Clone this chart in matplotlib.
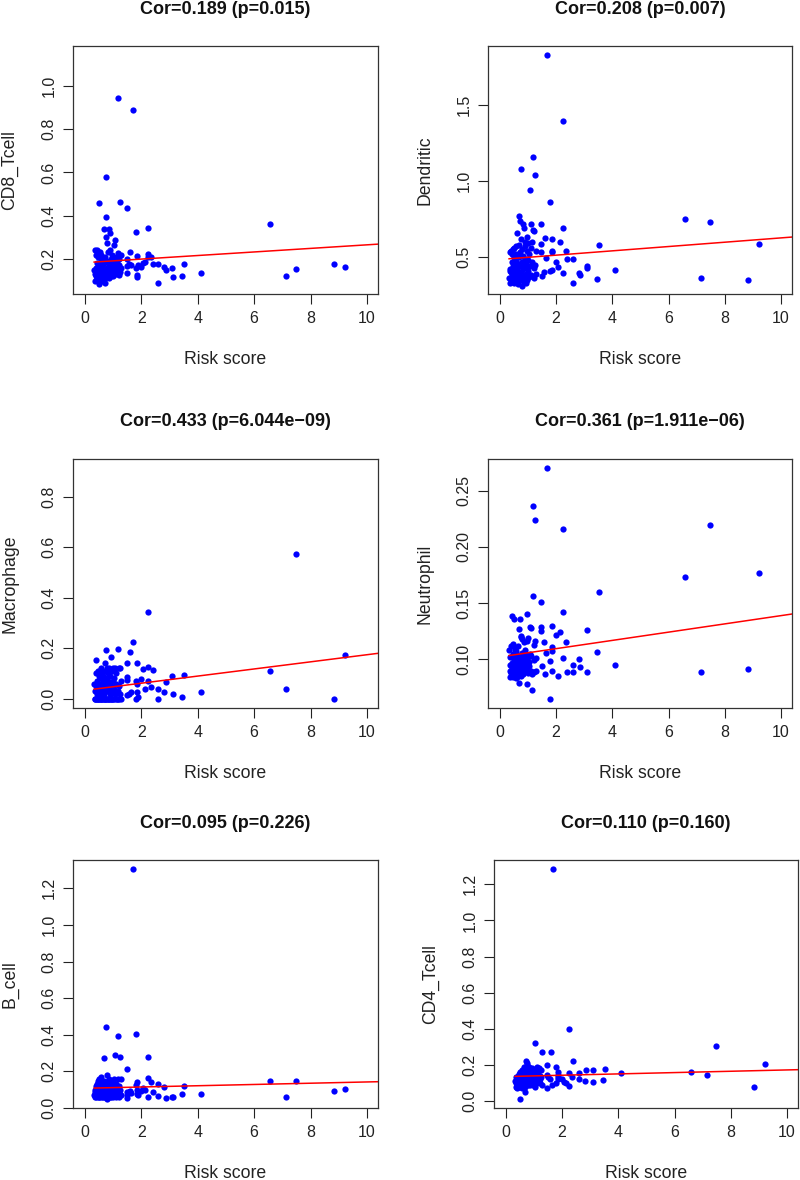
import numpy as np
import matplotlib
matplotlib.use('Agg')
import matplotlib.pyplot as plt

plt.rcParams['font.family'] = ['Liberation Sans', 'DejaVu Sans']

# risk score per sample (shared by all six panels)
risk_score = [
    0.33, 0.35, 0.36, 0.38, 0.39, 0.40, 0.41, 0.42, 0.43, 0.44,
    0.45, 0.46, 0.47, 0.48, 0.49, 0.50, 0.50, 0.51, 0.52, 0.53,
    0.54, 0.55, 0.56, 0.57, 0.58, 0.59, 0.60, 0.61, 0.62, 0.63,
    0.64, 0.65, 0.66, 0.67, 0.68, 0.69, 0.70, 0.71, 0.72, 0.73,
    0.74, 0.75, 0.76, 0.77, 0.78, 0.79, 0.80, 0.81, 0.82, 0.83,
    0.84, 0.85, 0.86, 0.87, 0.88, 0.89, 0.90, 0.91, 0.92, 0.93,
    0.94, 0.95, 0.96, 0.97, 0.98, 0.99, 1.00, 1.02, 1.04, 1.05,
    1.06, 1.08, 1.10, 1.11, 1.12, 1.14, 1.16, 1.17, 1.18, 1.20,
    1.21, 1.22, 1.24, 1.25, 1.27, 1.29, 0.37, 0.55, 0.62, 0.70,
    1.48, 1.48, 1.48, 1.50, 1.58, 1.60, 1.64, 1.69, 1.80, 1.80,
    1.84, 1.84, 1.86, 1.87, 1.99, 2.07, 2.13, 2.25, 2.25, 2.25,
    2.34, 2.40, 2.60, 2.61, 2.80, 2.86, 3.09, 3.11, 3.46, 3.51,
    4.11, 6.57, 7.14, 7.48, 8.83, 9.21]

cd8_tcell = [
    0.15, 0.13, 0.24, 0.12, 0.22, 0.14, 0.16, 0.11, 0.18, 0.24,
    0.13, 0.15, 0.21, 0.10, 0.17, 0.458, 0.12, 0.082, 0.14, 0.23,
    0.16, 0.11, 0.19, 0.13, 0.15, 0.22, 0.12, 0.17, 0.10, 0.14,
    0.16, 0.20, 0.13, 0.338, 0.12, 0.18, 0.15, 0.11, 0.21, 0.14,
    0.393, 0.30, 0.581, 0.16, 0.13, 0.274, 0.19, 0.12, 0.15, 0.23,
    0.338, 0.14, 0.17, 0.11, 0.24, 0.32, 0.13, 0.16, 0.20, 0.12,
    0.15, 0.18, 0.13, 0.22, 0.14, 0.17, 0.12, 0.19, 0.15, 0.266,
    0.289, 0.14, 0.16, 0.21, 0.13, 0.18, 0.228, 0.946, 0.15, 0.20,
    0.125, 0.17, 0.464, 0.14, 0.22, 0.16, 0.10, 0.13, 0.12, 0.09,
    0.435, 0.166, 0.20, 0.136, 0.175, 0.232, 0.17, 0.891, 0.323, 0.16,
    0.215, 0.126, 0.117, 0.17, 0.165, 0.18, 0.185, 0.343, 0.223, 0.209,
    0.21, 0.175, 0.088, 0.177, 0.162, 0.148, 0.158, 0.117, 0.122, 0.178,
    0.137, 0.36, 0.122, 0.154, 0.179, 0.165]

dendritic = [
    0.36, 0.42, 0.53, 0.33, 0.40, 0.54, 0.35, 0.47, 0.38, 0.52,
    0.34, 0.44, 0.55, 0.37, 0.41, 0.56, 0.33, 0.45, 0.50, 0.36,
    0.48, 0.39, 0.57, 0.34, 0.43, 0.52, 0.37, 0.46, 0.655, 0.35,
    0.41, 0.50, 0.32, 0.58, 0.44, 0.77, 0.38, 0.53, 0.74, 0.36,
    0.45, 0.62, 1.077, 0.40, 0.31, 0.55, 0.47, 0.34, 0.72, 0.42,
    0.51, 0.38, 0.69, 0.44, 0.60, 0.36, 0.49, 0.57, 0.33, 0.46,
    0.39, 0.54, 0.43, 0.63, 0.35, 0.48, 0.41, 0.59, 0.37, 0.52,
    0.939, 0.44, 0.72, 0.56, 0.38, 0.47, 0.60, 1.158, 0.68, 0.43,
    0.36, 0.67, 1.037, 0.45, 0.54, 0.39, 0.41, 0.48, 0.34, 0.50,
    0.715, 0.588, 0.53, 0.373, 0.40, 0.623, 0.496, 1.827, 0.86, 0.41,
    0.616, 0.533, 0.54, 0.417, 0.467, 0.434, 0.596, 1.395, 0.689, 0.397,
    0.537, 0.487, 0.33, 0.487, 0.395, 0.385, 0.44, 0.43, 0.355, 0.58,
    0.412, 0.752, 0.364, 0.73, 0.351, 0.586]

macrophage = [
    0.06, 0.0, 0.03, 0.0, 0.05, 0.10, 0.152, 0.0, 0.07, 0.02,
    0.0, 0.11, 0.04, 0.0, 0.09, 0.10, 0.0, 0.03, 0.06, 0.0,
    0.08, 0.02, 0.0, 0.12, 0.05, 0.0, 0.04, 0.10, 0.0, 0.07,
    0.0, 0.03, 0.09, 0.0, 0.06, 0.02, 0.14, 0.0, 0.11, 0.04,
    0.0, 0.08, 0.193, 0.05, 0.0, 0.12, 0.03, 0.0, 0.07, 0.10,
    0.0, 0.04, 0.12, 0.0, 0.06, 0.02, 0.09, 0.164, 0.0, 0.05,
    0.0, 0.11, 0.03, 0.0, 0.07, 0.12, 0.0, 0.04, 0.08, 0.0,
    0.12, 0.02, 0.0, 0.06, 0.10, 0.0, 0.03, 0.195, 0.0, 0.05,
    0.0, 0.12, 0.12, 0.02, 0.0, 0.07, 0.0, 0.01, 0.04, 0.0,
    0.143, 0.085, 0.074, 0.015, 0.02, 0.186, 0.025, 0.224, 0.07, 0.0,
    0.14, 0.028, 0.057, 0.005, 0.077, 0.119, 0.037, 0.345, 0.124, 0.07,
    0.048, 0.112, 0.0, 0.04, 0.026, 0.067, 0.09, 0.018, 0.007, 0.095,
    0.026, 0.111, 0.038, 0.572, 0.0, 0.173]

neutrophil = [
    0.108, 0.090, 0.084, 0.102, 0.095, 0.088, 0.112, 0.086, 0.1388, 0.097,
    0.092, 0.105, 0.084, 0.114, 0.099, 0.089, 0.103, 0.136, 0.094, 0.110,
    0.087, 0.101, 0.093, 0.098, 0.083, 0.107, 0.091, 0.100, 0.089, 0.096,
    0.104, 0.086, 0.112, 0.093, 0.099, 0.079, 0.088, 0.102, 0.1358, 0.095,
    0.085, 0.121, 0.120, 0.097, 0.090, 0.106, 0.118, 0.092, 0.100, 0.087,
    0.096, 0.115, 0.103, 0.089, 0.098, 0.094, 0.108, 0.101, 0.091, 0.105,
    0.097, 0.1406, 0.078, 0.116, 0.093, 0.102, 0.088, 0.119, 0.098, 0.094,
    0.1286, 0.105, 0.090, 0.128, 0.103, 0.087, 0.0727, 0.2364, 0.1566, 0.099,
    0.113, 0.089, 0.2236, 0.116, 0.101, 0.090, 0.095, 0.108, 0.084, 0.127,
    0.1507, 0.129, 0.125, 0.094, 0.115, 0.0866, 0.106, 0.2696, 0.0985, 0.065,
    0.130, 0.111, 0.107, 0.0896, 0.122, 0.0855, 0.124, 0.2156, 0.1418, 0.1015,
    0.115, 0.0887, 0.0947, 0.0887, 0.1006, 0.0932, 0.126, 0.089, 0.1068, 0.160,
    0.095, 0.1735, 0.089, 0.2194, 0.0917, 0.177]

b_cell = [
    0.07, 0.10, 0.06, 0.09, 0.12, 0.06, 0.08, 0.11, 0.07, 0.13,
    0.06, 0.09, 0.15, 0.07, 0.10, 0.16, 0.06, 0.08, 0.12, 0.07,
    0.11, 0.06, 0.14, 0.09, 0.07, 0.17, 0.10, 0.06, 0.08, 0.13,
    0.07, 0.11, 0.06, 0.15, 0.09, 0.271, 0.08, 0.12, 0.06, 0.10,
    0.14, 0.07, 0.44, 0.09, 0.05, 0.18, 0.11, 0.06, 0.13, 0.08,
    0.10, 0.16, 0.07, 0.12, 0.06, 0.09, 0.14, 0.08, 0.11, 0.06,
    0.13, 0.07, 0.10, 0.15, 0.06, 0.09, 0.12, 0.07, 0.16, 0.08,
    0.289, 0.10, 0.06, 0.13, 0.08, 0.11, 0.07, 0.396, 0.16, 0.09,
    0.12, 0.06, 0.276, 0.10, 0.16, 0.07, 0.09, 0.11, 0.08, 0.06,
    0.211, 0.073, 0.055, 0.085, 0.09, 0.091, 0.08, 1.304, 0.407, 0.125,
    0.144, 0.1, 0.076, 0.07, 0.091, 0.111, 0.1, 0.278, 0.162, 0.062,
    0.142, 0.089, 0.067, 0.129, 0.116, 0.056, 0.06, 0.06, 0.075, 0.118,
    0.078, 0.147, 0.06, 0.149, 0.091, 0.104]

cd4_tcell = [
    0.11, 0.08, 0.13, 0.10, 0.07, 0.12, 0.09, 0.14, 0.11, 0.08,
    0.12, 0.10, 0.15, 0.09, 0.13, 0.16, 0.08, 0.011, 0.11, 0.14,
    0.10, 0.12, 0.07, 0.17, 0.11, 0.13, 0.09, 0.15, 0.12, 0.10,
    0.14, 0.11, 0.19, 0.08, 0.13, 0.16, 0.05, 0.12, 0.223, 0.10,
    0.15, 0.20, 0.21, 0.11, 0.09, 0.13, 0.17, 0.12, 0.10, 0.14,
    0.19, 0.11, 0.13, 0.09, 0.16, 0.12, 0.10, 0.14, 0.11, 0.18,
    0.12, 0.09, 0.15, 0.11, 0.13, 0.10, 0.17, 0.12, 0.08, 0.323,
    0.14, 0.11, 0.19, 0.10, 0.13, 0.12, 0.16, 0.18, 0.11, 0.14,
    0.12, 0.10, 0.17, 0.13, 0.09, 0.273, 0.11, 0.14, 0.08, 0.12,
    0.199, 0.074, 0.144, 0.13, 0.12, 0.273, 0.09, 1.283, 0.19, 0.1,
    0.162, 0.144, 0.13, 0.12, 0.124, 0.107, 0.1, 0.398, 0.153, 0.085,
    0.135, 0.223, 0.124, 0.153, 0.112, 0.17, 0.171, 0.107, 0.116, 0.177,
    0.153, 0.16, 0.146, 0.304, 0.076, 0.205]

cell_names = ['CD8_Tcell', 'Dendritic', 'Macrophage', 'Neutrophil', 'B_cell', 'CD4_Tcell']
titles = ['Cor=0.189 (p=0.015)', 'Cor=0.208 (p=0.007)', 'Cor=0.433 (p=6.044e\u221209)',
          'Cor=0.361 (p=1.911e\u221206)', 'Cor=0.095 (p=0.226)', 'Cor=0.110 (p=0.160)']
# fitted line (intercept, slope)
fit_intercept = [0.183, 0.484, 0.033, 0.1021, 0.1079, 0.1352]
fit_slope = [0.00824, 0.0142, 0.0141, 0.00367, 0.00344, 0.00367]
x_ticks = [0, 2, 4, 6, 8, 10]
y_ticks = [[0.2, 0.4, 0.6, 0.8, 1.0], [0.5, 1.0, 1.5], [0.0, 0.2, 0.4, 0.6, 0.8],
           [0.10, 0.15, 0.20, 0.25], [0.0, 0.2, 0.4, 0.6, 0.8, 1.0, 1.2],
           [0.0, 0.2, 0.4, 0.6, 0.8, 1.0, 1.2]]
y_fmt = ['%.1f', '%.1f', '%.1f', '%.2f', '%.1f', '%.1f']
y_lims = [(0.038, 1.185), (0.257, 1.888), (-0.037, 0.949),
          (0.0567, 0.278), (0.0, 1.355), (-0.039, 1.335)]

cell_values = [cd8_tcell, dendritic, macrophage, neutrophil, b_cell, cd4_tcell]

W, H = 800, 1180
# axes boxes in pixels: left, top, right, bottom
boxes = [(73, 46, 378, 294), (488, 46, 792, 294),
         (73, 459, 378, 708), (488, 459, 792, 708),
         (73, 860, 378, 1108), (494, 860, 798, 1108)]

fig = plt.figure(figsize=(W / 100, H / 100), dpi=100)
fig.patch.set_facecolor('white')

x = np.array(risk_score)
for i in range(6):
    l, t, r, b = boxes[i]
    ax = fig.add_axes([l / W, 1 - b / H, (r - l) / W, (b - t) / H])
    y = np.array(cell_values[i])
    ax.plot(x, y, 'o', color='#0000ff', markersize=4.5, markeredgewidth=0)
    xl = (-0.42, 10.39)
    xs = np.array([x.min(), xl[1]])
    ax.plot(xs, fit_intercept[i] + fit_slope[i] * xs, color='#ff0000', lw=1.1)
    ax.set_xlim(*xl)
    ax.set_ylim(*y_lims[i])
    ax.set_xticks(x_ticks)
    ax.set_xticklabels([str(v) for v in x_ticks])
    ax.set_yticks(y_ticks[i])
    ax.set_yticklabels([y_fmt[i] % v for v in y_ticks[i]], rotation=90, va='center')
    ax.tick_params(direction='out', length=7, width=0.8, labelsize=11.5,
                   colors='#222222', pad=5)
    for sp in ax.spines.values():
        sp.set_linewidth(0.9)
        sp.set_color('#333333')
    pw, ph = r - l, b - t
    ax.text(0.5, 1 + 37 / ph, titles[i], transform=ax.transAxes, ha='center',
            va='center', fontsize=13, fontweight='bold', color='#111111')
    ax.text(0.5, -65 / ph, 'Risk score', transform=ax.transAxes, ha='center',
            va='center', fontsize=12.7, color='#222222')
    ax.text(-63 / pw, 0.5, cell_names[i], transform=ax.transAxes, ha='center',
            va='center', rotation=90, fontsize=12.7, color='#222222')

fig.savefig('out.png', dpi=100, facecolor='white')
